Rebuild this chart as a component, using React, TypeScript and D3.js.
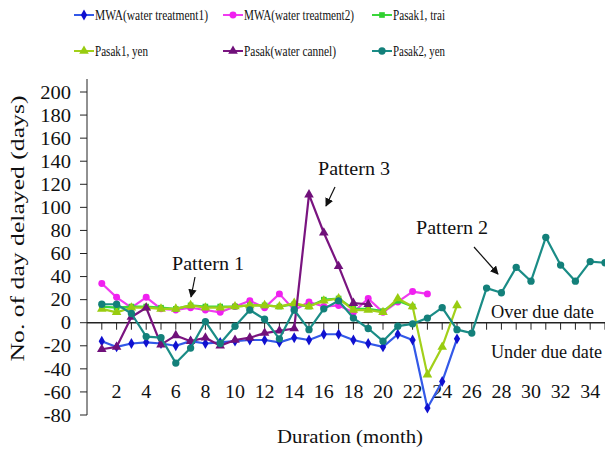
import * as d3 from "d3";

const W = 605;
const H = 450;
const FONT = '"Times New Roman", "Liberation Serif", Tinos, serif';

// series values, month 1..n
const mwa1 = [-16, -21, -18, -17, -18, -20, -16, -18, -17, -16, -15, -15, -17, -13, -15, -10, -10, -15, -18, -21, -10, -15, -74, -51, -14];
const mwa2 = [34, 22, 13, 22, 12, 11, 13, 11, 9, 14, 19, 13, 25, 11, 18, 14, 15, 9, 21, 9, 18, 27, 25];
const pasak1Trai = [14, 13, 14, 14, 13, 12, 15, 14, 14, 14, 15, 15, 14, 16, 14, 20, 21, 12, 12, 10, 19, 14];
const pasak1Yen = [12, 9, 13, 13, 12, 12, 15, 13, 13, 14, 15, 15, 14, 17, 14, 19, 21, 11, 11, 9, 21, 14, -45, -21, 15];
const pasakCannel = [-23, -21, 5, 13, -19, -11, -16, -13, -20, -15, -13, -9, -7, -5, 111, 78, 49, 17, 16];
const pasak2Yen = [16, 16, 8, -12, -13, -35, -22, 1, -18, -3, 11, 3, -14, 11, -6, 12, 19, 4, -5, -16, -3, -1, 4, 13, -6, -9, 30, 26, 48, 36, 74, 50, 36, 53, 52];

const yTicks = [-80, -60, -40, -20, 0, 20, 40, 60, 80, 100, 120, 140, 160, 180, 200];
const xLabels = [2, 4, 6, 8, 10, 12, 14, 16, 18, 20, 22, 24, 26, 28, 30, 32, 34];
const xTickMonths = d3.range(1, 36);

type Series = {
  name: string;
  values: number[];
  line: string;
  fill: string;
  symbol: d3.SymbolType;
  size: number;
};

const SERIES: Series[] = [
  { name: "MWA(water treatment1)", values: mwa1, line: "#3359e8", fill: "#1010d0", symbol: d3.symbolDiamond, size: 34 },
  { name: "MWA(water treatment2)", values: mwa2, line: "#f03cf0", fill: "#f020f0", symbol: d3.symbolCircle, size: 38 },
  { name: "Pasak1, trai", values: pasak1Trai, line: "#3ad63a", fill: "#30d030", symbol: d3.symbolSquare, size: 32 },
  { name: "Pasak1, yen", values: pasak1Yen, line: "#a2d01a", fill: "#98cc10", symbol: d3.symbolTriangle, size: 40 },
  { name: "Pasak(water cannel)", values: pasakCannel, line: "#7a1480", fill: "#70107a", symbol: d3.symbolTriangle, size: 40 },
  { name: "Pasak2, yen", values: pasak2Yen, line: "#1a8c86", fill: "#13807a", symbol: d3.symbolCircle, size: 42 },
];

// legend slot: left of the line, baseline row, text width
const LEGEND_POS = [
  { x: 74, y: 15, w: 113 },
  { x: 223, y: 15, w: 110 },
  { x: 372, y: 15, w: 52 },
  { x: 74, y: 51, w: 53 },
  { x: 223, y: 51, w: 92 },
  { x: 372, y: 51, w: 52 },
];

const txt = { fontFamily: FONT, fill: "#111" };

// rough width of a number label in this serif face
const numWidth = (s: string, size: number) =>
  s.split("").reduce((acc, c) => acc + (c === "-" ? 0.333 : 0.5), 0) * size;

export default function App() {
  const xScale = d3.scaleLinear().domain([0, 35]).range([87, 605]);
  const yScale = d3.scaleLinear().domain([-80, 200]).range([415, 92]);
  const y0 = yScale(0);

  const lineGen = d3
    .line<[number, number]>()
    .x((d) => xScale(d[0]))
    .y((d) => yScale(d[1]));

  return (
    <svg width={W} height={H} style={{ position: "absolute", left: 0, top: 0, background: "#fff" }}>
      <defs>
        <marker id="arr" viewBox="0 0 10 10" refX="9" refY="5" markerWidth="7" markerHeight="7" orient="auto">
          <path d="M0,0 L10,5 L0,10 z" fill="#111" />
        </marker>
      </defs>

      {/* Legend */}
      {SERIES.map((s, i) => {
        const p = LEGEND_POS[i];
        return (
          <g key={s.name} transform={`translate(${p.x},${p.y})`}>
            <line x1={0} x2={20} y1={0} y2={0} stroke={s.line} strokeWidth={2} />
            <path d={d3.symbol().type(s.symbol).size(s.size)()!} transform="translate(10,0)" fill={s.fill} />
            <text x={21} y={5} textLength={p.w} lengthAdjust="spacingAndGlyphs" style={{ ...txt, fontSize: 14 }}>
              {s.name}
            </text>
          </g>
        );
      })}

      {/* Y axis */}
      <line x1={87} x2={87} y1={79} y2={415} stroke="#222" strokeWidth={1} />
      {yTicks.map((t) => (
        <g key={t}>
          <line x1={80} x2={87} y1={yScale(t)} y2={yScale(t)} stroke="#222" />
          <text
            x={71}
            y={yScale(t)}
            dy="0.35em"
            textAnchor="end"
            textLength={numWidth(String(t), 19) * 1.08}
            lengthAdjust="spacingAndGlyphs"
            style={{ ...txt, fontSize: 19 }}
          >
            {t}
          </text>
        </g>
      ))}
      <text
        transform={`translate(24,${(95 + 362) / 2}) rotate(-90)`}
        textAnchor="middle"
        textLength={266}
        lengthAdjust="spacingAndGlyphs"
        style={{ ...txt, fontSize: 19 }}
      >
        No. of day delayed (days)
      </text>

      {/* X axis on the zero line */}
      <line x1={87} x2={605} y1={y0} y2={y0} stroke="#222" strokeWidth={1.5} />
      {xTickMonths.map((m) => (
        <line key={m} x1={xScale(m)} x2={xScale(m)} y1={y0} y2={y0 + 7} stroke="#222" />
      ))}
      {xLabels.map((m) => (
        <text
          key={m}
          x={xScale(m)}
          y={398}
          textAnchor="middle"
          textLength={numWidth(String(m), 19) * 1.05}
          lengthAdjust="spacingAndGlyphs"
          style={{ ...txt, fontSize: 19 }}
        >
          {m}
        </text>
      ))}
      <text x={350} y={443} textAnchor="middle" textLength={146} lengthAdjust="spacingAndGlyphs" style={{ ...txt, fontSize: 19.5 }}>
        Duration (month)
      </text>

      {/* Series */}
      {SERIES.map((s) => {
        const pts: [number, number][] = s.values.map((v, i) => [i + 1, v]);
        return (
          <g key={s.name}>
            <path d={lineGen(pts)!} fill="none" stroke={s.line} strokeWidth={2.2} strokeLinejoin="round" />
            {pts.map((p, i) => (
              <path
                key={i}
                d={d3.symbol().type(s.symbol).size(s.size)()!}
                transform={`translate(${xScale(p[0])},${yScale(p[1])})`}
                fill={s.fill}
              />
            ))}
          </g>
        );
      })}

      {/* Annotations */}
      <text x={172} y={270} textLength={72} lengthAdjust="spacingAndGlyphs" style={{ ...txt, fontSize: 19.5 }}>Pattern 1</text>
      <line x1={195} y1={277} x2={191} y2={297} stroke="#111" strokeWidth={1.2} markerEnd="url(#arr)" />
      <text x={318} y={175} textLength={72} lengthAdjust="spacingAndGlyphs" style={{ ...txt, fontSize: 19.5 }}>Pattern 3</text>
      <line x1={335} y1={187} x2={326} y2={206} stroke="#111" strokeWidth={1.2} markerEnd="url(#arr)" />
      <text x={416} y={234} textLength={72} lengthAdjust="spacingAndGlyphs" style={{ ...txt, fontSize: 19.5 }}>Pattern 2</text>
      <line x1={474} y1={247} x2={498} y2={274} stroke="#111" strokeWidth={1.2} markerEnd="url(#arr)" />

      <text x={491} y={318} textLength={103} lengthAdjust="spacingAndGlyphs" style={{ ...txt, fontSize: 18 }}>Over due date</text>
      <text x={491} y={358} textLength={111} lengthAdjust="spacingAndGlyphs" style={{ ...txt, fontSize: 18 }}>Under due date</text>
    </svg>
  );
}
